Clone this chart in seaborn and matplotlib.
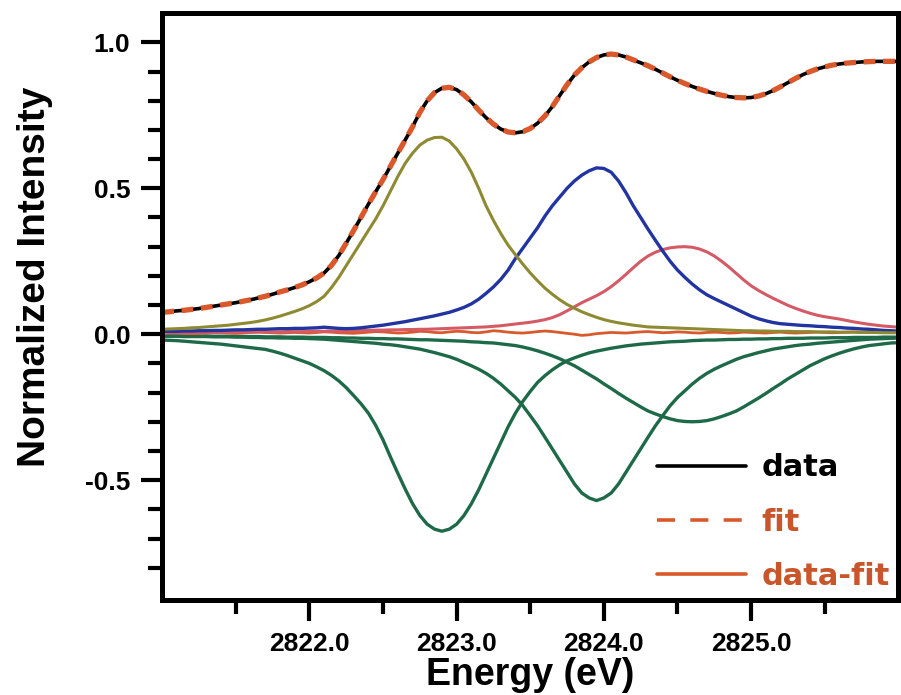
import numpy as np
import pandas as pd
import matplotlib
matplotlib.use("Agg")
import matplotlib.pyplot as plt
from matplotlib.lines import Line2D
from matplotlib.ticker import FixedLocator
import seaborn as sns

# energy grid (eV), 0.05 eV steps from 2821.0 to 2826.0
energy = np.round(np.linspace(2821.0, 2826.0, 101), 2)

data = [0.075, 0.077, 0.080, 0.082, 0.085, 0.088, 0.092, 0.096, 0.100, 0.104,
        0.108, 0.113, 0.118, 0.124, 0.130, 0.137, 0.145, 0.152, 0.160, 0.169,
        0.180, 0.193, 0.210, 0.236, 0.270, 0.312, 0.355, 0.400, 0.445, 0.488,
        0.530, 0.575, 0.620, 0.665, 0.710, 0.760, 0.800, 0.828, 0.843, 0.846,
        0.838, 0.820, 0.796, 0.768, 0.742, 0.720, 0.703, 0.693, 0.690, 0.694,
        0.705, 0.723, 0.748, 0.780, 0.818, 0.855, 0.888, 0.913, 0.933, 0.948,
        0.957, 0.960, 0.957, 0.950, 0.940, 0.930, 0.920, 0.908, 0.895, 0.882,
        0.870, 0.859, 0.849, 0.840, 0.832, 0.825, 0.819, 0.814, 0.811, 0.810,
        0.811, 0.816, 0.824, 0.835, 0.848, 0.862, 0.876, 0.889, 0.900, 0.909,
        0.916, 0.922, 0.926, 0.929, 0.931, 0.933, 0.934, 0.935, 0.935, 0.935,
        0.935]
fit = list(data)  # the fit lies right on the data

peak1 = [0.017, 0.018, 0.019, 0.020, 0.022, 0.023, 0.025, 0.027, 0.029, 0.031,
         0.034, 0.037, 0.040, 0.044, 0.049, 0.055, 0.062, 0.070, 0.078, 0.087,
         0.098, 0.112, 0.130, 0.160, 0.195, 0.235, 0.275, 0.315, 0.355, 0.395,
         0.440, 0.490, 0.540, 0.585, 0.620, 0.648, 0.665, 0.674, 0.675, 0.662,
         0.635, 0.600, 0.555, 0.500, 0.440, 0.390, 0.345, 0.305, 0.272, 0.240,
         0.210, 0.183, 0.158, 0.137, 0.118, 0.102, 0.089, 0.077, 0.067, 0.058,
         0.050, 0.044, 0.039, 0.035, 0.031, 0.028, 0.025, 0.024, 0.023, 0.022,
         0.021, 0.020, 0.019, 0.018, 0.017, 0.016, 0.015, 0.014, 0.013, 0.012,
         0.012, 0.011, 0.011, 0.010, 0.010, 0.010, 0.009, 0.009, 0.009, 0.008,
         0.008, 0.008, 0.007, 0.007, 0.007, 0.006, 0.006, 0.006, 0.005, 0.005,
         0.005]
peak2 = [0.010, 0.010, 0.010, 0.011, 0.011, 0.012, 0.012, 0.013, 0.013, 0.014,
         0.015, 0.015, 0.016, 0.017, 0.017, 0.018, 0.019, 0.019, 0.020, 0.020,
         0.021, 0.022, 0.024, 0.022, 0.020, 0.019, 0.020, 0.022, 0.025, 0.028,
         0.031, 0.035, 0.039, 0.043, 0.048, 0.053, 0.058, 0.063, 0.069, 0.075,
         0.083, 0.092, 0.104, 0.120, 0.140, 0.162, 0.188, 0.220, 0.260, 0.295,
         0.330, 0.365, 0.405, 0.440, 0.470, 0.500, 0.525, 0.545, 0.560, 0.570,
         0.568, 0.555, 0.525, 0.485, 0.440, 0.400, 0.360, 0.322, 0.285, 0.250,
         0.220, 0.195, 0.172, 0.152, 0.135, 0.122, 0.110, 0.098, 0.086, 0.074,
         0.062, 0.053, 0.046, 0.040, 0.036, 0.034, 0.032, 0.030, 0.029, 0.027,
         0.026, 0.024, 0.023, 0.021, 0.020, 0.018, 0.017, 0.015, 0.013, 0.012,
         0.010]
peak3 = [0.005, 0.005, 0.005, 0.005, 0.006, 0.006, 0.006, 0.006, 0.006, 0.007,
         0.007, 0.007, 0.007, 0.008, 0.008, 0.008, 0.008, 0.009, 0.009, 0.009,
         0.010, 0.010, 0.010, 0.011, 0.011, 0.012, 0.012, 0.013, 0.013, 0.014,
         0.014, 0.015, 0.015, 0.016, 0.016, 0.017, 0.017, 0.018, 0.019, 0.020,
         0.021, 0.022, 0.023, 0.024, 0.025, 0.027, 0.029, 0.032, 0.035, 0.038,
         0.041, 0.045, 0.050, 0.057, 0.067, 0.080, 0.094, 0.108, 0.120, 0.132,
         0.146, 0.163, 0.183, 0.205, 0.228, 0.250, 0.268, 0.281, 0.290, 0.296,
         0.299, 0.300, 0.298, 0.292, 0.282, 0.268, 0.250, 0.230, 0.208, 0.186,
         0.166, 0.150, 0.136, 0.123, 0.111, 0.099, 0.089, 0.080, 0.072, 0.065,
         0.060, 0.056, 0.052, 0.047, 0.042, 0.038, 0.034, 0.031, 0.028, 0.026,
         0.024]
resid = [0.003, 0.004, 0.004, 0.003, 0.002, 0.003, 0.004, 0.005, 0.005, 0.004,
         0.003, 0.004, 0.006, 0.007, 0.006, 0.005, 0.004, 0.005, 0.006, 0.005,
         0.004, 0.006, 0.008, 0.007, 0.005, 0.004, 0.003, 0.005, 0.007, 0.009,
         0.008, 0.006, 0.004, 0.005, 0.007, 0.010, 0.009, 0.006, 0.005, 0.008,
         0.010, 0.009, 0.006, 0.005, 0.008, 0.012, 0.010, 0.007, 0.005, 0.004,
         0.006, 0.009, 0.011, 0.009, 0.006, 0.003, 0.000, -0.004, -0.002, 0.002,
         0.004, 0.006, 0.005, 0.004, 0.006, 0.008, 0.009, 0.007, 0.005, 0.006,
         0.008, 0.007, 0.005, 0.004, 0.006, 0.007, 0.006, 0.004, 0.005, 0.007,
         0.006, 0.005, 0.004, 0.006, 0.007, 0.005, 0.004, 0.005, 0.006, 0.007,
         0.006, 0.005, 0.006, 0.007, 0.008, 0.007, 0.008, 0.009, 0.010, 0.010,
         0.011]
neg1 = [-0.020, -0.021, -0.022, -0.024, -0.026, -0.028, -0.030, -0.032, -0.034, -0.037,
        -0.040, -0.043, -0.046, -0.049, -0.052, -0.058, -0.065, -0.073, -0.082, -0.091,
        -0.100, -0.112, -0.125, -0.141, -0.160, -0.183, -0.210, -0.238, -0.270, -0.312,
        -0.362, -0.420, -0.476, -0.530, -0.580, -0.621, -0.651, -0.668, -0.675, -0.668,
        -0.651, -0.621, -0.581, -0.533, -0.479, -0.425, -0.371, -0.317, -0.270, -0.230,
        -0.196, -0.165, -0.142, -0.122, -0.105, -0.091, -0.081, -0.072, -0.064, -0.058,
        -0.053, -0.048, -0.044, -0.040, -0.037, -0.034, -0.032, -0.030, -0.028, -0.026,
        -0.025, -0.024, -0.022, -0.021, -0.020, -0.020, -0.019, -0.018, -0.018, -0.017,
        -0.017, -0.016, -0.016, -0.015, -0.015, -0.014, -0.014, -0.014, -0.013, -0.013,
        -0.013, -0.012, -0.012, -0.012, -0.011, -0.011, -0.011, -0.011, -0.010, -0.010,
        -0.010]
neg2 = [-0.007, -0.007, -0.007, -0.008, -0.008, -0.008, -0.008, -0.009, -0.009, -0.009,
        -0.010, -0.010, -0.011, -0.011, -0.012, -0.012, -0.013, -0.013, -0.014, -0.014,
        -0.015, -0.016, -0.017, -0.019, -0.021, -0.023, -0.025, -0.027, -0.029, -0.031,
        -0.034, -0.036, -0.039, -0.043, -0.047, -0.051, -0.057, -0.063, -0.070, -0.077,
        -0.086, -0.097, -0.108, -0.120, -0.134, -0.151, -0.171, -0.194, -0.217, -0.245,
        -0.279, -0.314, -0.353, -0.393, -0.433, -0.473, -0.513, -0.544, -0.561, -0.570,
        -0.561, -0.544, -0.513, -0.473, -0.433, -0.393, -0.353, -0.314, -0.279, -0.245,
        -0.217, -0.194, -0.171, -0.151, -0.134, -0.120, -0.108, -0.097, -0.086, -0.077,
        -0.070, -0.063, -0.057, -0.051, -0.047, -0.043, -0.039, -0.036, -0.034, -0.031,
        -0.029, -0.027, -0.025, -0.023, -0.021, -0.019, -0.017, -0.016, -0.015, -0.014,
        -0.013]
neg3 = [-0.005, -0.005, -0.005, -0.006, -0.006, -0.006, -0.006, -0.007, -0.007, -0.007,
        -0.007, -0.008, -0.008, -0.008, -0.009, -0.009, -0.009, -0.010, -0.010, -0.010,
        -0.011, -0.011, -0.011, -0.012, -0.012, -0.013, -0.013, -0.014, -0.014, -0.015,
        -0.015, -0.016, -0.016, -0.017, -0.018, -0.019, -0.019, -0.020, -0.021, -0.022,
        -0.023, -0.024, -0.026, -0.027, -0.029, -0.030, -0.033, -0.036, -0.039, -0.044,
        -0.050, -0.057, -0.065, -0.074, -0.084, -0.096, -0.108, -0.123, -0.138, -0.153,
        -0.170, -0.186, -0.203, -0.219, -0.234, -0.249, -0.263, -0.273, -0.282, -0.290,
        -0.296, -0.299, -0.300, -0.299, -0.296, -0.290, -0.282, -0.273, -0.263, -0.249,
        -0.234, -0.219, -0.203, -0.186, -0.170, -0.153, -0.138, -0.123, -0.108, -0.096,
        -0.084, -0.074, -0.065, -0.057, -0.050, -0.044, -0.039, -0.036, -0.033, -0.030,
        -0.029]

xticks_major = [2822.0, 2823.0, 2824.0, 2825.0]
xticks_minor = [2821.5, 2822.5, 2823.5, 2824.5, 2825.5]
yticks_major = [-0.5, 0.0, 0.5, 1.0]
yticks_minor = [-0.8, -0.7, -0.6, -0.4, -0.3, -0.2, -0.1,
                0.1, 0.2, 0.3, 0.4, 0.6, 0.7, 0.8, 0.9]

sns.set_style("ticks")
plt.rcParams['font.family'] = ['Liberation Sans', 'DejaVu Sans']
plt.rcParams['axes.unicode_minus'] = False
plt.rcParams['lines.scale_dashes'] = False
for k in ['text.color', 'axes.labelcolor', 'xtick.color', 'ytick.color',
          'axes.edgecolor']:
    plt.rcParams[k] = 'black'

orange = '#D9592C'
label_orange = '#C9562B'
green = '#1E6A48'

fig = plt.figure(figsize=(9.01, 6.95), dpi=100)
ax = fig.add_axes([0.18, 0.137, 0.817, 0.844])

for neg in (neg1, neg2, neg3):
    sns.lineplot(x=energy, y=neg, color=green, lw=2.4, ax=ax)
sns.lineplot(x=energy, y=resid, color=orange, lw=2.0, ax=ax)
sns.lineplot(x=energy, y=peak3, color='#D45A66', lw=2.2, ax=ax)
sns.lineplot(x=energy, y=peak2, color='#2234A0', lw=2.4, ax=ax)
sns.lineplot(x=energy, y=peak1, color='#8E8A32', lw=2.2, ax=ax)
sns.lineplot(x=energy, y=data, color='black', lw=2.6, ax=ax)
sns.lineplot(x=energy, y=fit, color=orange, lw=3.8, ax=ax)
ax.lines[-1].set_dashes((8.5, 5.5))

ax.set_xlim(2821.0, 2826.0)
ax.set_ylim(-0.91, 1.10)
ax.xaxis.set_major_locator(FixedLocator(xticks_major))
ax.xaxis.set_minor_locator(FixedLocator(xticks_minor))
ax.yaxis.set_major_locator(FixedLocator(yticks_major))
ax.yaxis.set_minor_locator(FixedLocator(yticks_minor))
ax.set_xticklabels([f"{v:.1f}" for v in xticks_major])
ax.set_yticklabels([f"{v:.1f}" for v in yticks_major])

ax.tick_params(which='major', direction='out', length=15, width=3,
               labelsize=19, pad=8)
ax.tick_params(which='minor', direction='out', length=10, width=3)
for lab in ax.get_xticklabels() + ax.get_yticklabels():
    lab.set_fontweight('bold')
for s in ax.spines.values():
    s.set_linewidth(3.6)
    s.set_visible(True)

ax.set_xlabel("Energy (eV)", fontsize=27, fontweight='bold', labelpad=1)
ax.set_ylabel("Normalized Intensity", fontsize=28, fontweight='bold')
ax.yaxis.set_label_coords(-0.148, 0.55)

handles = [Line2D([], [], color='black', lw=2.6),
           Line2D([], [], color=orange, lw=2.6, dashes=(13, 11)),
           Line2D([], [], color=orange, lw=2.6)]
ax.legend(handles, ["data", "fit", "data-fit"], loc='lower left',
          bbox_to_anchor=(0.6726, 0.015), frameon=False,
          handlelength=2.9, handletextpad=0.5, labelspacing=0.83,
          borderpad=0, borderaxespad=0,
          labelcolor=['black', label_orange, label_orange],
          prop={'family': 'DejaVu Sans', 'weight': 'bold', 'size': 22})

fig.savefig("out.png", dpi=100)
